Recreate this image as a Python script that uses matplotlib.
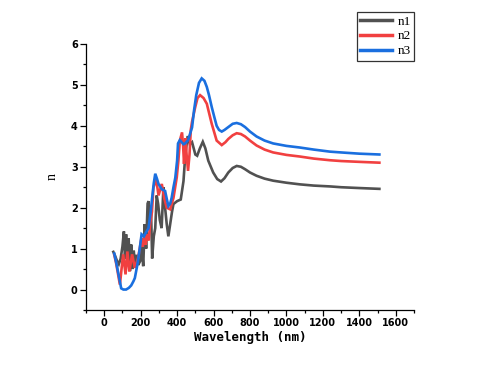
import matplotlib
matplotlib.use("Agg")
import matplotlib.pyplot as plt

# ---- data ----
n1_x = [50, 60, 70, 80, 90, 100, 108, 114, 120, 127, 134, 141, 148, 155, 162, 170, 178, 186, 197,
        205, 214, 222, 230, 238, 243, 250, 257, 263, 272, 280, 288, 296, 305, 315, 325, 334, 343,
        352, 362, 372, 380, 400, 420, 435, 445, 458,
        470, 482, 500, 510, 525, 541, 555, 571, 598, 620, 641, 660, 681, 705, 727, 750, 773, 800,
        836, 880, 927, 1000, 1074, 1150, 1238, 1300, 1400, 1510]
n1_y = [0.92, 0.82, 0.7, 0.62, 0.75, 1.05, 1.42, 0.75, 1.35, 0.62, 1.25, 0.45, 1.1, 0.5, 0.95, 0.55,
        0.85, 0.6, 0.69, 1.1, 0.57, 1.6, 1.0, 2.1, 2.16, 1.5, 1.9, 0.76, 1.3, 1.5, 2.3, 2.09, 1.7,
        1.5, 2.5, 2.0, 1.6, 1.3, 1.6, 1.9, 2.09, 2.16,
        2.2, 2.65, 3.3, 3.75, 3.55, 3.6, 3.3, 3.27, 3.45, 3.61, 3.45, 3.15, 2.86, 2.7, 2.64, 2.72,
        2.86, 2.97, 3.02, 3.0, 2.94, 2.86, 2.78, 2.71, 2.66, 2.61, 2.57, 2.54, 2.52, 2.5, 2.48, 2.46]

n2_x = [55, 65, 75, 86, 95, 104, 117, 127, 138, 153, 168, 186, 204, 212, 220, 228, 235, 244, 252,
        262, 270, 285, 298,
        316, 329, 343, 362, 380, 398, 407, 415, 427, 433, 438, 446, 452, 460, 468, 475, 482, 499,
        512, 526, 545, 563, 590, 617, 645, 665, 681, 705, 727, 750, 773, 800, 836, 880, 927, 1000,
        1074, 1150, 1238, 1300, 1400, 1510]
n2_y = [0.85, 0.65, 0.4, 0.12, 0.5, 0.86, 0.37, 0.93, 0.44, 0.86, 0.53, 0.77, 1.25, 1.05, 1.3, 1.1,
        1.35, 1.2, 1.6, 1.9, 2.49, 2.7, 2.3, 2.58, 2.24, 2.0, 1.96, 2.24, 2.74, 3.15, 3.64, 3.84,
        3.5, 3.07, 3.7, 3.3,
        2.9, 3.3, 3.9, 4.1, 4.45, 4.68, 4.75, 4.68, 4.54, 4.05, 3.64, 3.53, 3.6, 3.68, 3.77, 3.82,
        3.8, 3.74, 3.64, 3.52, 3.42, 3.35, 3.29, 3.25, 3.2, 3.16, 3.14, 3.12, 3.1]

n3_x = [55, 65, 75, 85, 93, 105, 120, 135, 148, 160, 168, 182, 195, 205, 218, 230, 243, 255, 263,
        272, 280, 290, 298, 316, 334, 344, 352, 362, 370, 380, 390, 400, 405, 415, 425, 435, 444,
        460, 482, 493, 505, 520, 535, 550, 563, 575, 590, 605, 617, 630, 645, 660, 681, 705, 727,
        750, 773, 800, 836, 880, 927, 1000, 1074, 1150, 1238, 1300, 1400, 1510]
n3_y = [0.88, 0.68, 0.45, 0.22, 0.03, 0.0, 0.0, 0.04, 0.1, 0.2, 0.28, 0.61, 1.0, 1.35, 1.3, 1.4,
        1.5, 1.9, 2.24, 2.6, 2.83, 2.7, 2.58, 2.45, 2.41, 2.2, 2.04, 2.1, 2.24, 2.5, 2.73, 3.15,
        3.57, 3.65, 3.6, 3.55, 3.57, 3.65, 3.96, 4.38, 4.75, 5.05, 5.16, 5.1, 4.95, 4.75, 4.46,
        4.2, 4.0, 3.9, 3.86, 3.9, 3.97, 4.05, 4.07, 4.04, 3.97, 3.86, 3.74, 3.64, 3.57, 3.51,
        3.47, 3.42, 3.37, 3.35, 3.32, 3.3]

series_labels = ["n1", "n2", "n3"]
colors = ["#515151", "#F14040", "#1A6FDF"]
x_ticks = [0, 200, 400, 600, 800, 1000, 1200, 1400, 1600]
y_ticks = [0, 1, 2, 3, 4, 5, 6]

fig = plt.figure(figsize=(4.82, 3.71), dpi=100)
ax = fig.add_axes([86 / 482, 1 - 310 / 371, (414 - 86) / 482, (310 - 44) / 371])

for xs, ys, lab, c in zip([n1_x, n2_x, n3_x], [n1_y, n2_y, n3_y], series_labels, colors):
    ax.plot(xs, ys, color=c, lw=1.9, label=lab, solid_joinstyle="miter")

ax.set_xlim(-100, 1700)
ax.set_ylim(-0.5, 6)
ax.set_xticks(x_ticks)
ax.set_yticks(y_ticks)
ax.set_xticks(range(-100, 1701, 100), minor=True)
ax.set_yticks([v / 2 for v in range(-1, 13)], minor=True)
ax.spines["top"].set_visible(False)
ax.spines["right"].set_visible(False)
for s in ("left", "bottom"):
    ax.spines[s].set_linewidth(0.9)
ax.tick_params(which="major", direction="out", length=4, width=0.9, pad=2)
ax.tick_params(which="minor", direction="out", length=2.5, width=0.9)

tick_font = dict(family="DejaVu Sans", weight="bold", size=7)
for lbl in ax.get_xticklabels() + ax.get_yticklabels():
    lbl.set_fontproperties(matplotlib.font_manager.FontProperties(**tick_font))

ax.set_xlabel("Wavelength (nm)", family="DejaVu Sans Mono", weight="bold", size=9, labelpad=2)
ax.set_ylabel("n", family="Liberation Serif", size=10, labelpad=9)

leg = fig.legend(loc="upper right", bbox_to_anchor=(414 / 482, 1 - 12 / 371),
                 prop=dict(family="Liberation Serif", size=9.5), frameon=True,
                 fancybox=False, handlelength=2.4, handletextpad=0.4, borderpad=0.25,
                 labelspacing=0.2, borderaxespad=0)
leg.get_frame().set_edgecolor("black")
leg.get_frame().set_linewidth(0.9)
for line in leg.get_lines():
    line.set_linewidth(2.5)

fig.savefig("out.png", dpi=100)
